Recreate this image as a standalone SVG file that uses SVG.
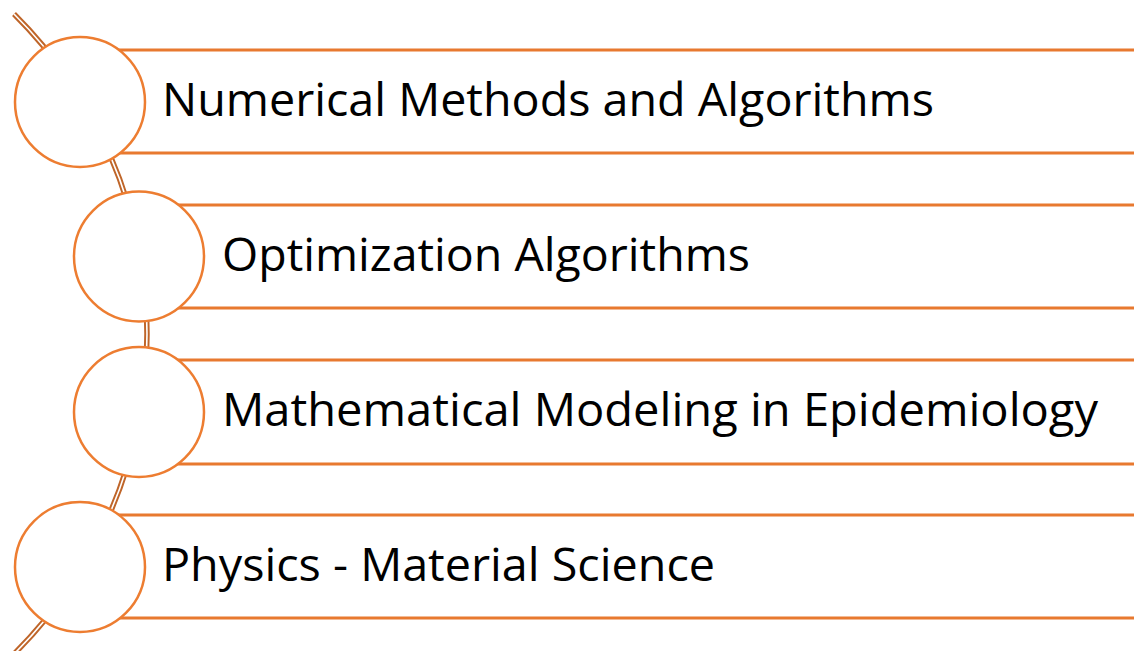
<svg xmlns="http://www.w3.org/2000/svg" width="1134" height="651" viewBox="0 0 1134 651">
<style>
.bar{stroke:#E8792F;stroke-width:3;fill:none}
.dot{fill:#FFFFFF;stroke:#ED7D31;stroke-width:2.5}
.lbl{font-family:"Open Sans","Liberation Sans",sans-serif;font-size:46px;fill:#000000}
.arcO{fill:none;stroke:#BF6529;stroke-width:5.5}
.arcI{fill:none;stroke:#FFFFFF;stroke-width:1.6}
</style>
<rect width="1134" height="651" fill="#FFFFFF"/>
<g id="connectors">
<path class="arcO" d="M 14 14 A 451.5 451.5 0 0 1 14 654"/>
<path class="arcI" d="M 14 14 A 451.5 451.5 0 0 1 14 654"/>
</g>
<g id="node1">
<line class="bar" x1="80" y1="50" x2="1134" y2="50"/>
<line class="bar" x1="80" y1="153" x2="1134" y2="153"/>
<circle class="dot" cx="80" cy="102" r="65"/>
<text class="lbl" x="162" y="116" textLength="772" lengthAdjust="spacingAndGlyphs">Numerical Methods and Algorithms</text>
</g>
<g id="node2">
<line class="bar" x1="139" y1="205" x2="1134" y2="205"/>
<line class="bar" x1="139" y1="308" x2="1134" y2="308"/>
<circle class="dot" cx="139" cy="256.5" r="65"/>
<text class="lbl" x="222" y="271" textLength="528" lengthAdjust="spacingAndGlyphs">Optimization Algorithms</text>
</g>
<g id="node3">
<line class="bar" x1="139" y1="360" x2="1134" y2="360"/>
<line class="bar" x1="139" y1="464" x2="1134" y2="464"/>
<circle class="dot" cx="139" cy="412" r="65"/>
<text class="lbl" x="222" y="426" textLength="876" lengthAdjust="spacingAndGlyphs">Mathematical Modeling in Epidemiology</text>
</g>
<g id="node4">
<line class="bar" x1="80" y1="515" x2="1134" y2="515"/>
<line class="bar" x1="80" y1="618" x2="1134" y2="618"/>
<circle class="dot" cx="80" cy="567" r="65"/>
<text class="lbl" x="162" y="581" textLength="553" lengthAdjust="spacingAndGlyphs">Physics - Material Science</text>
</g>
</svg>
